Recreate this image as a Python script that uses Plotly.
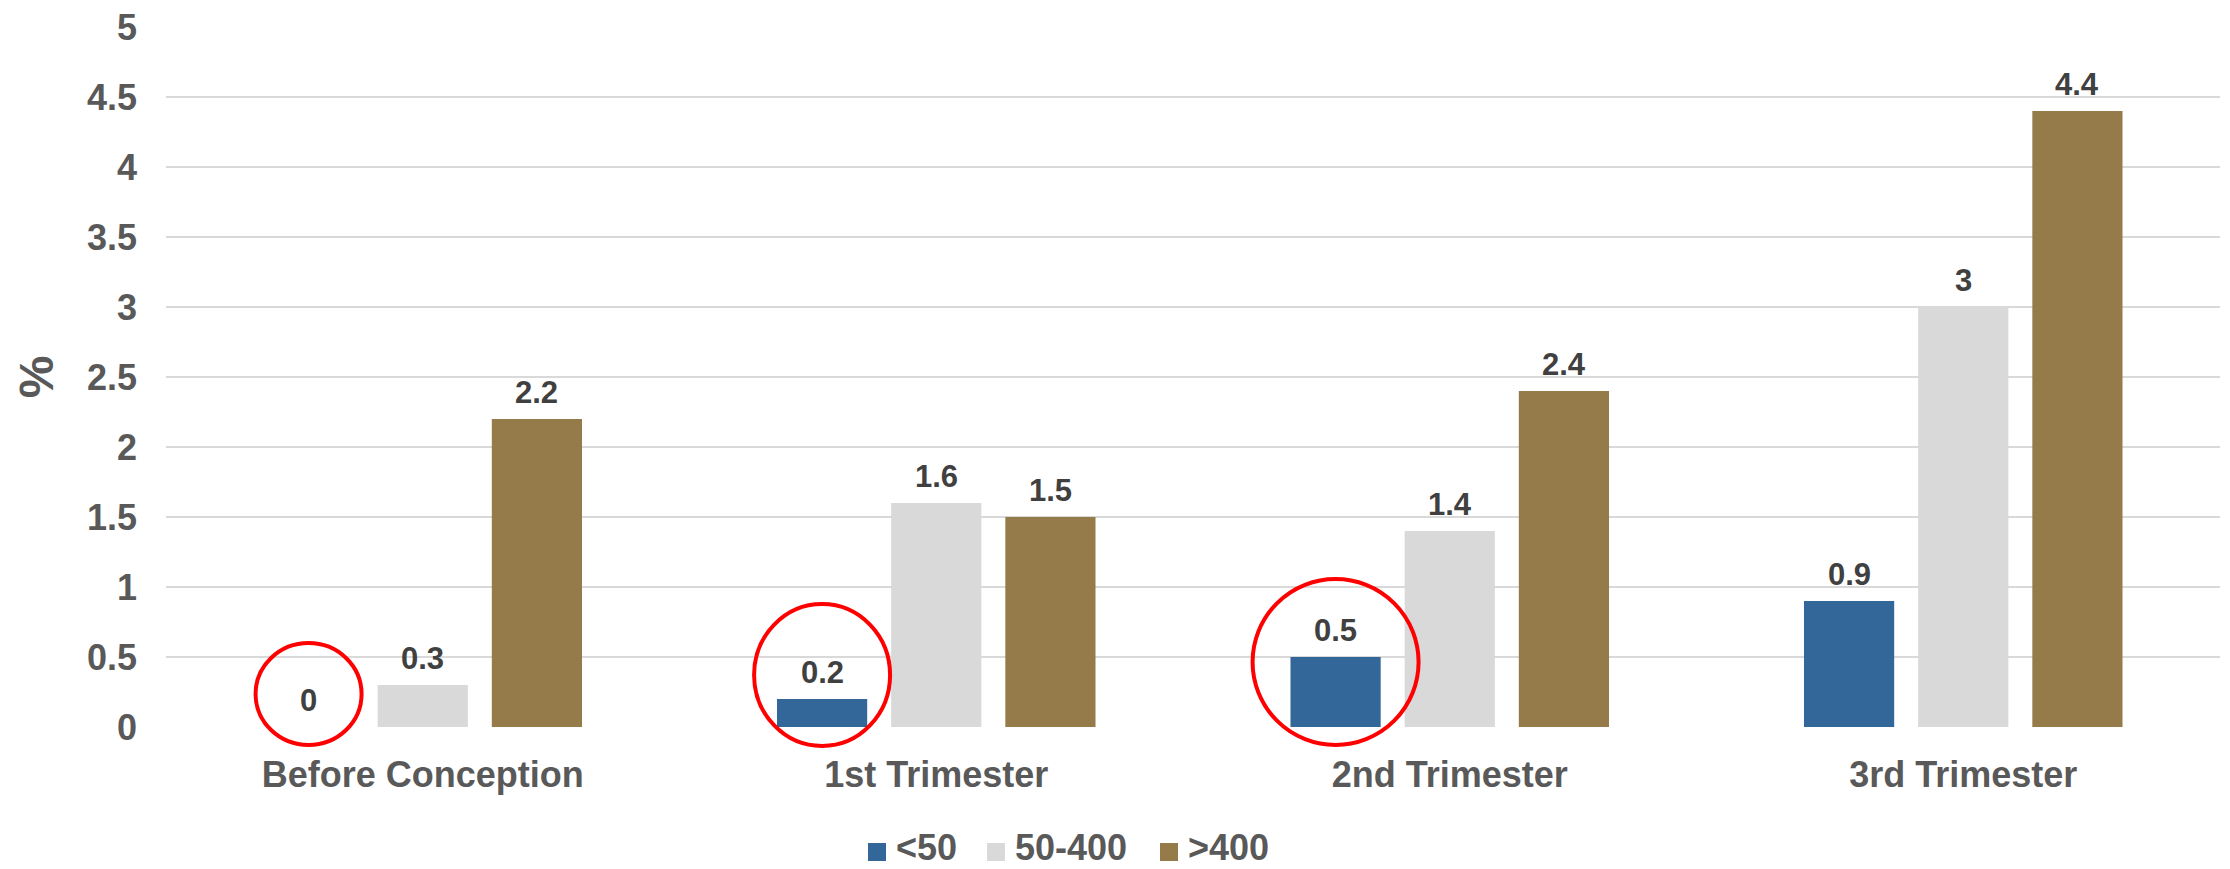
import plotly.graph_objects as go

# Share of cases by timing of exposure and dose band
categories = ["Before Conception", "1st Trimester", "2nd Trimester", "3rd Trimester"]
series_names = ["<50", "50-400", ">400"]
values_lt50 = [0, 0.2, 0.5, 0.9]
values_50_400 = [0.3, 1.6, 1.4, 3]
values_gt400 = [2.2, 1.5, 2.4, 4.4]
y_ticks = [0, 0.5, 1, 1.5, 2, 2.5, 3, 3.5, 4, 4.5, 5]

series_values = [values_lt50, values_50_400, values_gt400]
colors = ["#336699", "#D9D9D9", "#967B4A"]

FONT = "Liberation Sans, Arial, sans-serif"
W, H = 2230, 869
M_L, M_R, M_T, M_B = 166, 10, 27, 142
PLOT_W = W - M_L - M_R
PLOT_H = H - M_T - M_B
BARGAP = 0.333
BARGROUPGAP = 0.21
X_RANGE = [-0.5, len(categories) - 0.5]


def px_to_paper_x(px):
    return (px - M_L) / PLOT_W


def px_to_paper_y(py):
    return (H - M_B - py) / PLOT_H


fig = go.Figure()
for name, vals, col in zip(series_names, series_values, colors):
    fig.add_trace(go.Bar(
        name=name, x=categories, y=vals,
        marker=dict(color=col, line=dict(width=0)),
        hoverinfo="x+y+name", showlegend=False,
    ))

# Value labels above each bar, positioned at the grouped-bar offsets
n = len(series_names)
slot = (1 - BARGAP) / n
annotations = []
for si, vals in enumerate(series_values):
    off = (si - (n - 1) / 2) * slot
    for ci, v in enumerate(vals):
        annotations.append(dict(
            x=ci + off, y=v, xref="x", yref="y",
            text=f"{v:g}", showarrow=False,
            yanchor="bottom", xanchor="center", yshift=7,
            font=dict(family=FONT, size=31, color="#404040", weight=700),
        ))

# Red rings around the lowest-dose bars (category, x radius, y radius, centre height in px)
highlights = [
    ("Before Conception", 53, 51, 33),
    ("1st Trimester", 68, 71, 52),
    ("2nd Trimester", 83, 83, 65),
]
shapes = []
off0 = (0 - (n - 1) / 2) * slot
span = X_RANGE[1] - X_RANGE[0]
for cat, rx, ry, cy in highlights:
    ci = categories.index(cat)
    ax = (ci + off0 - X_RANGE[0]) / span
    shapes.append(dict(
        type="circle", xref="paper", yref="paper",
        xsizemode="pixel", ysizemode="pixel",
        xanchor=ax, yanchor=0,
        x0=-rx, x1=rx, y0=cy - ry, y1=cy + ry,
        line=dict(color="#FF0000", width=4),
        fillcolor="rgba(0,0,0,0)", layer="above",
    ))

# Legend: square swatch followed by the series name
legend_swatch_left = [868, 987, 1160]
swatch_y = 852
text_y = 847
swatch = 18
for name, col, sx in zip(series_names, colors, legend_swatch_left):
    shapes.append(dict(
        type="rect", xref="paper", yref="paper",
        xsizemode="pixel", ysizemode="pixel",
        xanchor=px_to_paper_x(sx), yanchor=px_to_paper_y(swatch_y),
        x0=0, x1=swatch, y0=-swatch / 2, y1=swatch / 2,
        line=dict(width=0), fillcolor=col,
    ))
    annotations.append(dict(
        x=px_to_paper_x(sx + swatch + 8), y=px_to_paper_y(text_y),
        xref="paper", yref="paper", xanchor="left", yanchor="middle",
        text=name, showarrow=False,
        font=dict(family=FONT, size=36, color="#595959", weight=700),
    ))

fig.update_layout(
    width=W, height=H,
    margin=dict(l=M_L, r=M_R, t=M_T, b=M_B, autoexpand=False),
    paper_bgcolor="white", plot_bgcolor="white",
    barmode="group", bargap=BARGAP, bargroupgap=BARGROUPGAP,
    font=dict(family=FONT, size=36, color="#595959", weight=700),
    annotations=annotations, shapes=shapes,
    showlegend=False,
    xaxis=dict(
        type="category", range=X_RANGE, showgrid=False, zeroline=False, showline=False,
        ticks="", ticklabelstandoff=23,
        tickfont=dict(family=FONT, size=36, color="#595959", weight=700),
    ),
    yaxis=dict(
        range=[0, 5], tickvals=y_ticks, ticktext=[f"{t:g}" for t in y_ticks],
        showgrid=True, gridcolor="#D9D9D9", gridwidth=2,
        zeroline=False, showline=False, ticks="", ticklabelstandoff=28,
        tickfont=dict(family=FONT, size=36, color="#595959", weight=700),
        title=dict(text="%", standoff=18,
                   font=dict(family=FONT, size=48, color="#595959", weight=700)),
    ),
)

fig.write_html("out.html")
